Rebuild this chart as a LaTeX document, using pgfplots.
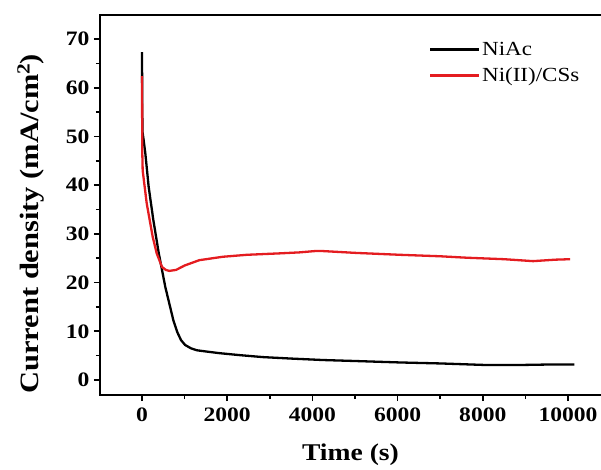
\documentclass[border=0pt]{standalone}
\usepackage{fontspec}
\setmainfont{Liberation Serif}[FakeStretch=1.15]
\usepackage{pgfplots}
\pgfplotsset{compat=1.18}
\definecolor{myred}{RGB}{228,28,32}
\begin{document}
\begin{tikzpicture}
\useasboundingbox (-100pt,-74pt) rectangle (501pt,395pt);
\begin{axis}[
  at={(0,0)}, anchor=south west,
  scale only axis, width=501pt, height=380pt,
  xmin=-986, xmax=10775, ymin=-3.08, ymax=74.93,
  axis line style={draw=none},
  xtick={0,2000,...,10000}, ytick={0,10,...,70},
  scaled x ticks=false, scaled y ticks=false,
  minor x tick num=1, minor y tick num=1,
  xtick pos=bottom, ytick pos=left, tick align=outside,
  major tick length=6pt, minor tick length=4pt,
  every tick/.style={black, line width=1.6pt},
  /pgf/number format/assume math mode=true,
  /pgf/number format/1000 sep={},
  tick label style={font=\fontsize{20.5}{24}\selectfont\bfseries},
  xticklabel style={yshift=-3pt},
  yticklabel style={xshift=-1pt},
  xlabel={Time (s)}, ylabel={Current density (mA/cm$^{\mathbf{2}}$)},
  xlabel style={font=\fontsize{24}{28}\selectfont\bfseries, at={(axis description cs:0.5,-0.158)}, anchor=center},
  ylabel style={font=\fontsize{26.5}{30}\selectfont\bfseries, at={(axis description cs:-0.138,0.45)}, anchor=center},
  legend style={draw=none, fill=none, at={(axis description cs:0.65,0.94)}, anchor=north west,
    font=\fontsize{20}{22}\selectfont, row sep=7pt},
  legend cell align=left,
  legend image code/.code={\draw[#1] (0pt,0pt) -- (49pt,0pt);},
  clip=false,
]
\addplot[black, line width=2.3pt] coordinates {
(0,67.3) (4,60) (10,51) (35,49.5) (77,46.6) (157,39.6) (265,32.9) (392,26.1)
(547,19.1) (735,12.3) (830,9.8) (915,8.2) (1010,7.2) (1150,6.5) (1290,6.1) (1550,5.8)
(1830,5.5) (2300,5.1) (2840,4.7) (3500,4.4) (4250,4.1) (5000,3.9) (6060,3.6)
(7000,3.4) (8000,3.1) (9000,3.1) (9700,3.2) (10150,3.2)
};
\addlegendentry{NiAc}
\addplot[myred, line width=2.3pt] coordinates {
(0,62.4) (3,55) (6,47) (16,43) (110,36.3) (251,29.4) (345,26) (470,23.2)
(560,22.6) (640,22.4) (800,22.6) (1000,23.5) (1345,24.6) (1900,25.3) (2460,25.7)
(3240,26) (3700,26.2) (4100,26.5) (4180,26.5) (5000,26.1) (6060,25.7) (7000,25.4)
(7630,25.1) (8500,24.8) (9180,24.4) (9700,24.7) (10050,24.8)
};
\addlegendentry{Ni(II)/CSs}
\draw[black, line width=2pt] (rel axis cs:1,0) -- (rel axis cs:0,0) -- (rel axis cs:0,1) -- (rel axis cs:1,1);
\end{axis}
\end{tikzpicture}
\end{document}
